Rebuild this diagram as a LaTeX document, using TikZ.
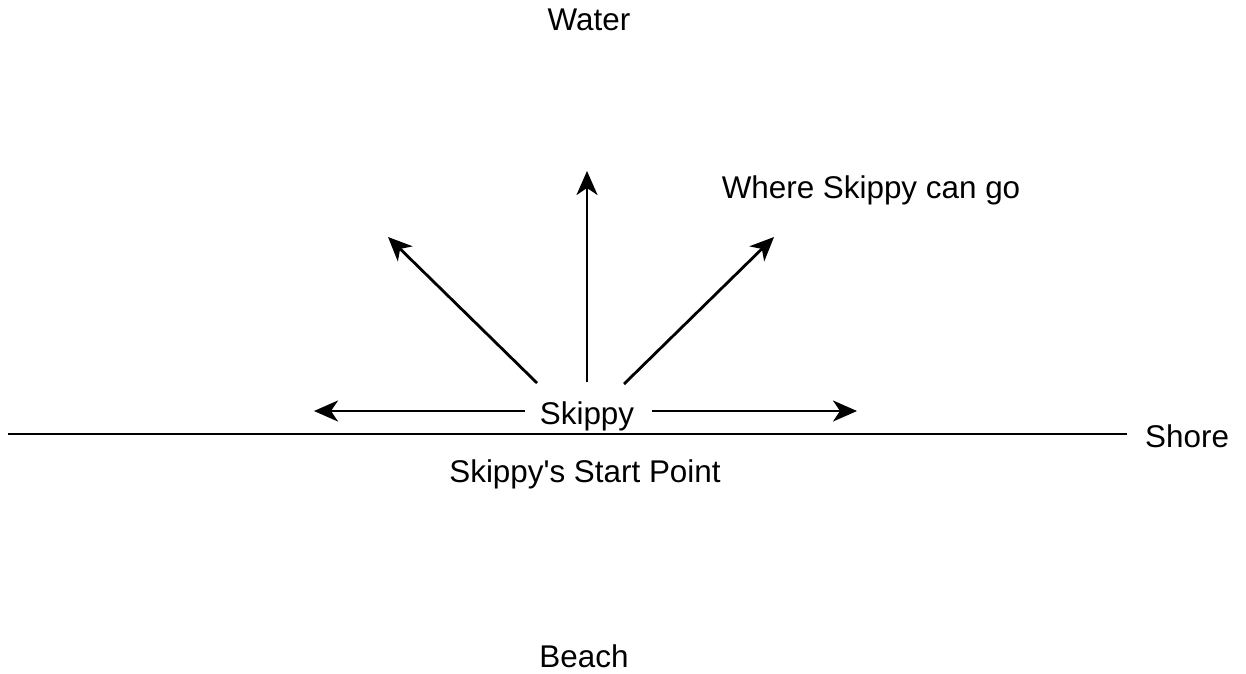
\documentclass[tikz,border=0pt]{standalone}
\usepackage{fontspec}
\setmainfont{Liberation Sans}[Ligatures=TeXOff]
\usetikzlibrary{arrows.meta}
\begin{document}
\begin{tikzpicture}[x=1pt,y=-1pt,
  lbl/.style={font=\fontsize{31.4}{36}\selectfont, inner sep=0pt, anchor=base},
  conn/.style={line width=2.8pt, -{Stealth[length=24pt,width=21pt,inset=7pt]}},
  shoreline/.style={line width=2.8pt}]
\useasboundingbox (0,0) rectangle (1246,673);
\node[lbl] (water) at (589,30) {Water};
\node[lbl] (beach) at (584,667) {Beach};
\node[lbl] (where) at (871,198) {Where Skippy can go};
\node[lbl] (skippy) at (587,424) {Skippy};
\node[lbl] (start) at (585,482) {Skippy's Start Point};
\node[lbl, anchor=base west] (shore) at (1145,447) {Shore};
\coordinate (shoreL) at (8,434);
\coordinate (shoreR) at (1127,434);
\draw[shoreline] (shoreL) -- (shoreR);
\coordinate (sL) at (525,411);
\coordinate (tL) at (314,411);
\coordinate (sR) at (652,411);
\coordinate (tR) at (857,411);
\coordinate (sU) at (587,382);
\coordinate (tU) at (587,171);
\coordinate (sUL) at (537,383);
\coordinate (tUL) at (388,237);
\coordinate (sUR) at (624,384);
\coordinate (tUR) at (774,237);
\draw[conn] (sL) -- (tL);
\draw[conn] (sR) -- (tR);
\draw[conn] (sU) -- (tU);
\draw[conn] (sUL) -- (tUL);
\draw[conn] (sUR) -- (tUR);
\end{tikzpicture}
\end{document}
